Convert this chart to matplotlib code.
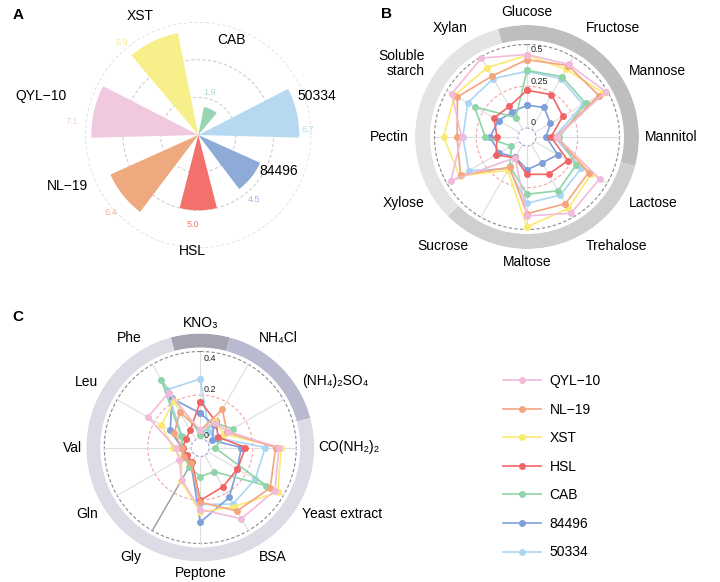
import numpy as np
import matplotlib
matplotlib.use("Agg")
import matplotlib.pyplot as plt
from matplotlib.lines import Line2D

plt.rcParams['font.family'] = ['Liberation Sans', 'DejaVu Sans']

# ---------------- data ----------------
series = ["QYL−10", "NL−19", "XST", "HSL", "CAB", "84496", "50334"]
series_colors = ["#F2BADB", "#F4A57D", "#FBEA70", "#F26565", "#90D4A9", "#7E9FD9", "#ABD6F3"]

# Panel A (bars, counter-clockwise from bottom)
strains_a = ["HSL", "84496", "50334", "CAB", "XST", "QYL−10", "NL−19"]
values_a = [5.0, 4.5, 6.7, 1.9, 6.9, 7.1, 6.4]
colors_a = ["#F2716C", "#8EABD8", "#B6D9F1", "#98D5B2", "#F7EF8A", "#F0C8E0", "#EEA97F"]
value_label_colors = ["#F27A76", "#9DB7E6", "#B6D9F1", "#A8DDBF", "#F5EC86", "#F2CBE2", "#F1B48F"]

# Panel B (carbon sources)
cats_b = ["Glucose", "Fructose", "Mannose", "Mannitol", "Lactose", "Trehalose", "Maltose",
          "Sucrose", "Xylose", "Pectin", "Soluble\nstarch", "Xylan"]
b_qyl10 = [0.440, 0.448, 0.490, 0.125, 0.448, 0.473, 0.419, 0.089, 0.472, 0.338, 0.466, 0.492]
b_nl19 = [0.409, 0.440, 0.443, 0.120, 0.372, 0.407, 0.405, 0.155, 0.405, 0.365, 0.427, 0.367]
b_xst = [0.435, 0.414, 0.474, 0.125, 0.390, 0.440, 0.485, 0.177, 0.412, 0.446, 0.446, 0.425]
b_hsl = [0.226, 0.239, 0.194, 0.090, 0.229, 0.204, 0.170, 0.090, 0.160, 0.126, 0.174, 0.158]
b_cab = [0.345, 0.364, 0.351, 0.140, 0.285, 0.318, 0.289, 0.150, 0.055, 0.196, 0.309, 0.080]
b_84496 = [0.136, 0.151, 0.108, 0.060, 0.159, 0.125, 0.142, 0.085, 0.137, 0.168, 0.143, 0.120]
b_50334 = [0.340, 0.350, 0.335, 0.110, 0.321, 0.347, 0.343, 0.164, 0.349, 0.330, 0.356, 0.350]
b_groups = [4, 4, 4]
b_group_colors = ["#BEBEBE", "#CFCFCF", "#E4E4E4"]
b_ticks = ["0", "0.25", "0.5"]

# Panel C (nitrogen sources)
cats_c = ["KNO₃", "NH₄Cl", "(NH₄)₂SO₄", "CO(NH₂)₂", "Yeast extract", "BSA", "Peptone",
          "Gly", "Gln", "Val", "Leu", "Phe"]
c_qyl10 = [0.037, 0.090, 0.105, 0.320, 0.355, 0.336, 0.244, 0.130, 0.070, 0.072, 0.237, 0.250]
c_nl19 = [0.037, 0.161, 0.100, 0.305, 0.330, 0.296, 0.210, 0.043, 0.045, 0.045, 0.096, 0.147]
c_xst = [0.037, 0.097, 0.083, 0.331, 0.370, 0.272, 0.256, 0.137, 0.055, 0.085, 0.165, 0.204]
c_hsl = [0.170, 0.099, 0.054, 0.166, 0.156, 0.167, 0.202, 0.035, 0.030, 0.040, 0.035, 0.051]
c_cab = [0.018, 0.090, 0.130, 0.024, 0.310, 0.087, 0.092, 0.064, 0.040, 0.040, 0.060, 0.318]
c_84496 = [0.116, 0.080, 0.023, 0.147, 0.155, 0.224, 0.302, 0.044, 0.035, 0.045, 0.118, 0.219]
c_50334 = [0.274, 0.040, 0.048, 0.257, 0.250, 0.259, 0.220, 0.050, 0.050, 0.050, 0.053, 0.265]
c_groups = [1, 2, 9]
c_group_colors = ["#A5A3B1", "#B9B9CF", "#DCDCE7"]
c_ticks = ["0", "0.2", "0.4"]

W, H = 720, 582
fig = plt.figure(figsize=(7.2, 5.82), dpi=100)


def px_polar(cx, cy, R):
    return fig.add_axes([(cx - R) / W, 1 - (cy + R) / H, 2 * R / W, 2 * R / H],
                        projection='polar')


def clean(ax):
    ax.set_xticks([])
    ax.set_yticks([])
    ax.grid(False)
    ax.spines['polar'].set_visible(False)
    ax.set_facecolor('none')


# ---------------- Panel A ----------------
axA = px_polar(198.3, 135, 113)
clean(axA)
axA.set_ylim(0, 7.5)
theta_a = np.deg2rad(270 + np.arange(len(strains_a)) * 360 / len(strains_a))
tt = np.linspace(0, 2 * np.pi, 400)
for rr in [2.5, 5.0, 7.5]:
    axA.plot(tt, np.full_like(tt, rr), color="#CFCFCF", lw=0.8, ls=(0, (3, 2)), zorder=1)
axA.bar(theta_a, values_a, width=0.5, color=colors_a, linewidth=0, zorder=2)

name_theta = [266.9, -24.3, 18.4, 70.4, 116.0, 166.2, 201.4]
name_r = [7.74, 5.88, 8.30, 6.66, 8.82, 10.75, 9.36]
val_theta = [266.3, -48.8, 2.7, 75.5, 129.4, 174.0, 221.6]
val_r = [5.92, 5.66, 7.27, 2.89, 7.95, 8.46, 7.73]
for i, s in enumerate(strains_a):
    axA.text(np.deg2rad(name_theta[i]), name_r[i], s, ha='center', va='center',
             fontsize=10, clip_on=False)
    axA.text(np.deg2rad(val_theta[i]), val_r[i], f"{values_a[i]:.1f}", ha='center',
             va='center', fontsize=6.5, color=value_label_colors[i], clip_on=False)


# ---------------- radar helper ----------------
def radar(ax, cats, data, rmin, rmax, band_in, outer, mid, groups, gcolors,
          tick_labels, tick_pos, label_r, dark_spoke=None):
    clean(ax)
    ax.set_theta_zero_location('N')
    ax.set_theta_direction(-1)
    ax.set_ylim(rmin, rmax)
    n = len(cats)
    step = 2 * np.pi / n
    angles = np.arange(n) * step
    # outer band
    start = -step / 2
    for g, c in zip(groups, gcolors):
        wdt = g * step
        ax.bar(start + wdt / 2, rmax - band_in, width=wdt, bottom=band_in,
               color=c, linewidth=0, zorder=0.5)
        start += wdt
    tt = np.linspace(0, 2 * np.pi, 400)
    ax.plot(tt, np.zeros_like(tt), color="#9A9AD6", lw=0.8, ls=(0, (2.5, 2)), zorder=1)
    ax.plot(tt, np.full_like(tt, mid), color="#F4A3A3", lw=0.8, ls=(0, (3, 2)), zorder=1)
    ax.plot(tt, np.full_like(tt, outer), color="#8A8A8A", lw=0.8, ls=(0, (3, 2)), zorder=1)
    for a in angles:
        ax.plot([a, a], [0, outer], color="#DDDDDD", lw=0.8, zorder=1)
    if dark_spoke is not None:
        idx, r0 = dark_spoke
        ax.plot([angles[idx]] * 2, [r0, outer], color="#A0A0A0", lw=1.0, zorder=1.5)
    for vals, col in zip(data[::-1], series_colors[::-1]):
        v = np.array(vals)
        ax.plot(np.append(angles, angles[0]), np.append(v, v[0]), color=col, lw=1.2,
                marker='o', ms=4, zorder=3, clip_on=False)
    for t, p in zip(tick_labels, tick_pos):
        ax.annotate(t, xy=(0, p), xytext=(2.5, 0), textcoords='offset points',
                    ha='left', va='center', fontsize=6.5, color="#222222", zorder=4)
    for i, (a, c) in enumerate(zip(angles, cats)):
        deg = np.rad2deg(a) % 360
        if np.isclose(deg, 0) or np.isclose(deg, 180):
            ha = 'center'
        elif deg < 180:
            ha = 'left'
        else:
            ha = 'right'
        if np.isclose(deg, 90) or np.isclose(deg, 270):
            va = 'center'
        elif deg < 90 or deg > 270:
            va = 'bottom'
        else:
            va = 'top'
        ax.text(a, label_r, c, ha=ha, va=va, fontsize=10, clip_on=False,
                linespacing=1.1)
    return angles


# ---------------- Panel B ----------------
kB, r0B, RB = 167.0, 9.0, 112.0
axB = px_polar(527.0, 137.0, RB)
data_b = [b_qyl10, b_nl19, b_xst, b_hsl, b_cab, b_84496, b_50334]
radar(axB, cats_b, data_b, rmin=-r0B / kB, rmax=(RB - r0B) / kB,
      band_in=(97 - r0B) / kB, outer=0.5, mid=0.25, groups=b_groups,
      gcolors=b_group_colors, tick_labels=b_ticks, tick_pos=[0.03, 0.278, 0.473],
      label_r=(118 - r0B) / kB)

# ---------------- Panel C ----------------
kC, r0C, RC = 217.5, 9.0, 114.0
axC = px_polar(200.3, 447.5, RC)
data_c = [c_qyl10, c_nl19, c_xst, c_hsl, c_cab, c_84496, c_50334]
radar(axC, cats_c, data_c, rmin=-r0C / kC, rmax=(RC - r0C) / kC,
      band_in=(100 - r0C) / kC, outer=0.4, mid=0.2, groups=c_groups,
      gcolors=c_group_colors, tick_labels=c_ticks, tick_pos=[0.016, 0.223, 0.369],
      label_r=(118 - r0C) / kC, dark_spoke=(7, 0.06))

# ---------------- legend ----------------
handles = [Line2D([0], [0], color=c, lw=1.2, marker='o', ms=4) for c in series_colors]
fig.legend(handles, series, loc='upper left', bbox_to_anchor=(503 / W, 1 - 374 / H),
           frameon=False, fontsize=10, handlelength=2.7, handletextpad=0.65,
           labelspacing=1.05, borderpad=0, borderaxespad=0)

# panel letters
for lab, x, y in [("A", 18.3, 14.7), ("B", 386, 14), ("C", 17.5, 316.7)]:
    fig.text(x / W, 1 - y / H, lab, fontsize=11, fontweight='bold', ha='center', va='center')

fig.savefig("out.png", dpi=100)
